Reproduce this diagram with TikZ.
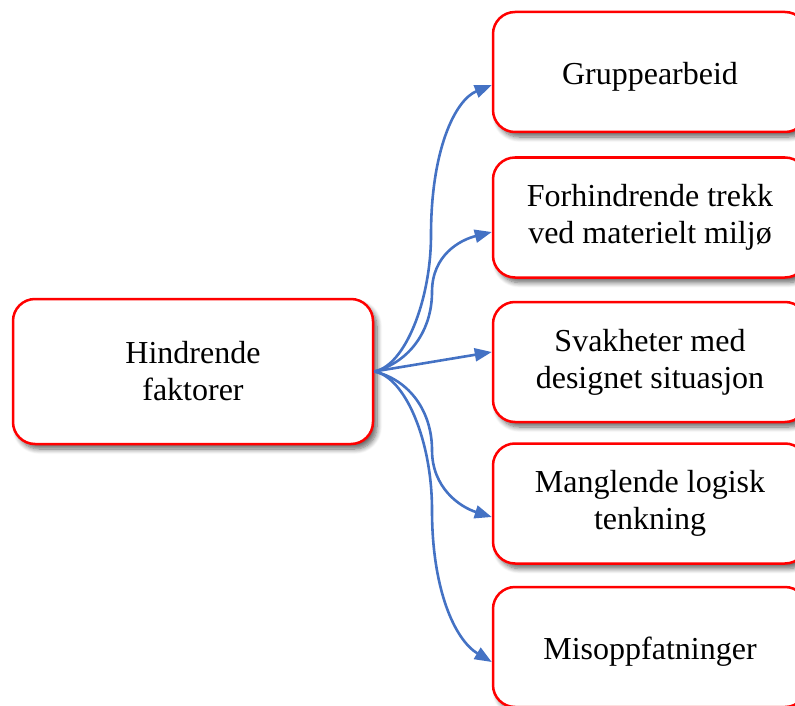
\documentclass[tikz,border=0pt]{standalone}
\usepackage{fontspec}
\setmainfont{Liberation Serif}
\usetikzlibrary{arrows.meta,shadows.blur}
\definecolor{connblue}{HTML}{4472C4}
\begin{document}
\begin{tikzpicture}[x=1pt,y=-1pt,
  box/.style={draw=red, line width=2.5pt, rounded corners=22pt, fill=white,
    align=center, font=\fontsize{32}{37}\selectfont, inner sep=0pt,
    execute at begin node={\rule{0pt}{32pt}},
    blur shadow={shadow xshift=4pt, shadow yshift=-5pt, shadow blur steps=8,
      shadow blur radius=5pt, shadow opacity=60}},
  srcbox/.style={box, minimum width=360pt, minimum height=145pt},
  tgtbox/.style={box, minimum width=314pt, minimum height=120pt},
  conn/.style={draw=connblue, line width=2.6pt, -{Triangle[length=17pt,width=13pt]}}]
\useasboundingbox (0,0) rectangle (795,706);
\clip (0,0) rectangle (795,706);
\node[srcbox] (src) at (193,371.5) {Hindrende\\faktorer};
\node[tgtbox] (b1) at (650,72) {Gruppearbeid};
\node[tgtbox] (b2) at (650,217.5) {Forhindrende trekk\\ved materielt miljø};
\node[tgtbox] (b3) at (650,362) {Svakheter med\\designet situasjon};
\node[tgtbox] (b4) at (650,503.5) {Manglende logisk\\tenkning};
\node[tgtbox] (b5) at (650,647) {Misoppfatninger};
\draw[conn] (src.east) .. controls (405,366) and (431,300) .. (431,235)
  .. controls (431,150) and (455,100) .. ([yshift=-13pt]b1.west);
\draw[conn] (src.east) .. controls (410,362) and (432,330) .. (432,292)
  .. controls (432,255) and (460,240) .. ([yshift=-14.5pt]b2.west);
\draw[conn] (src.east) -- ([yshift=10pt]b3.west);
\draw[conn] (src.east) .. controls (410,380) and (432,412) .. (432,450)
  .. controls (432,488) and (460,507) .. ([yshift=-13.5pt]b4.west);
\draw[conn] (src.east) .. controls (405,377) and (432,440) .. (432,510)
  .. controls (432,590) and (455,640) .. ([yshift=-15pt]b5.west);
\end{tikzpicture}
\end{document}
